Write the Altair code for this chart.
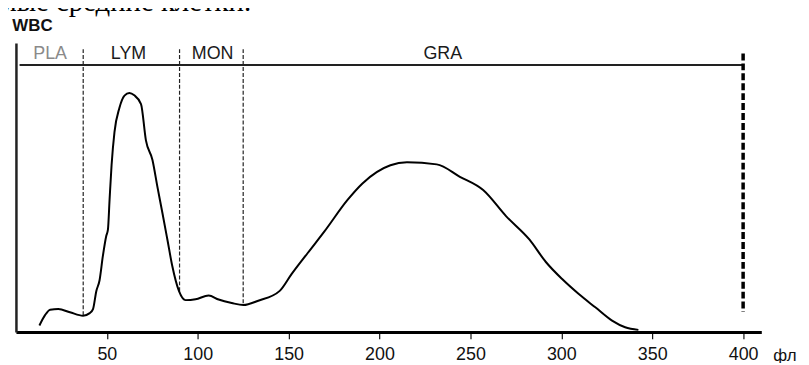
import altair as alt
import pandas as pd

# ---- data ----
curve_x = [12.9, 16.0, 18.8, 23.3, 29.7, 36.9, 40.6, 42.4, 44.2, 46.0, 47.8, 49.7, 50.6, 51.5,
           52.6, 54.2, 56.9, 59.7, 62.4, 65.1, 68.8, 71.5, 75.1, 77.8, 80.6, 83.3, 86.0, 89.7,
           93.3, 98.8, 106.0, 111.5, 118.7, 125.1, 133.3, 145.1, 151.5, 160.6, 169.7, 182.4,
           190.6, 206.0, 215.1, 231.5, 244.2, 257.0, 269.7, 282.4, 291.5, 300.6, 309.6, 318.7,
           327.9, 335.1, 342.4]
curve_y = [2.2, 5.8, 7.7, 7.9, 6.8, 5.6, 6.5, 7.9, 14.1, 17.9, 26.2, 33.3, 35.4, 45.7,
           57.7, 69.2, 77.5, 81.8, 82.7, 81.9, 78.9, 66.3, 59.5, 50.3, 41.1, 32.0, 22.8, 14.1,
           11.0, 11.3, 12.6, 11.2, 10.0, 9.3, 10.8, 14.2, 19.9, 27.4, 34.8, 45.7,
           51.4, 57.7, 58.7, 58.0, 53.7, 49.1, 40.0, 32.0, 24.2, 18.2, 13.1, 8.5,
           3.9, 1.6, 0.7]

boundary_x = [37, 90, 125]
boundary_top = [97.9, 97.9, 97.9]
boundary_bottom = [5.6, 14.1, 9.3]

end_x = [400]
end_top = [96.4]
end_bottom = [6.9]

band_line_x = [2]
band_line_x2 = [400]
band_line_y = [92.4]

region_labels = ["PLA", "LYM", "MON", "GRA"]
region_label_x = [18.8, 61.9, 108.2, 234.8]
region_label_y = [96.2, 96.2, 96.2, 96.2]
region_label_tone = ["light", "dark", "dark", "dark"]

tick_values = [50, 100, 150, 200, 250, 300, 350, 400]

heading_text = ["мые средние клетки."]
y_label_text = ["WBC"]
x_unit_text = ["фл"]

# ---- scales / encodings ----
xscale = alt.Scale(domain=[0, 410], nice=False, zero=False)
yscale = alt.Scale(domain=[0, 100], nice=False, zero=False)
xaxis = alt.Axis(values=tick_values, title=None, grid=False, domainWidth=3, domainColor="#000",
                 tickColor="#111", tickWidth=1.2, tickSize=7, labelFontSize=18,
                 labelFont="Liberation Sans", labelColor="#111", labelPadding=7, format="d")
yaxis = alt.Axis(title=None, grid=False, ticks=False, labels=False, domainWidth=2.5,
                 domainColor="#222")

curve_df = pd.DataFrame({"x": curve_x, "y": curve_y})
curve = alt.Chart(curve_df).mark_line(color="#000", strokeWidth=2, interpolate="monotone").encode(
    x=alt.X("x:Q", scale=xscale, axis=xaxis),
    y=alt.Y("y:Q", scale=yscale, axis=yaxis),
)

bdf = pd.DataFrame({"x": boundary_x, "top": boundary_top, "bottom": boundary_bottom})
bounds = alt.Chart(bdf).mark_rule(color="#222", strokeWidth=1.2, strokeDash=[4, 2]).encode(
    x=alt.X("x:Q", scale=xscale, axis=xaxis),
    y=alt.Y("top:Q", scale=yscale, axis=yaxis),
    y2="bottom:Q",
)

edf = pd.DataFrame({"x": end_x, "top": end_top, "bottom": end_bottom})
endline = alt.Chart(edf).mark_rule(color="#000", strokeWidth=3.5, strokeDash=[7, 3]).encode(
    x=alt.X("x:Q", scale=xscale, axis=xaxis),
    y=alt.Y("top:Q", scale=yscale, axis=yaxis),
    y2="bottom:Q",
)

ldf = pd.DataFrame({"x": band_line_x, "x2": band_line_x2, "y": band_line_y})
bandline = alt.Chart(ldf).mark_rule(color="#222", strokeWidth=2.2).encode(
    x=alt.X("x:Q", scale=xscale, axis=xaxis),
    x2="x2:Q",
    y=alt.Y("y:Q", scale=yscale, axis=yaxis),
)

rdf = pd.DataFrame({"label": region_labels, "x": region_label_x, "y": region_label_y,
                    "tone": region_label_tone})
rlabels = alt.Chart(rdf).mark_text(font="Liberation Sans", fontSize=18, baseline="middle",
                                   align="center").encode(
    x=alt.X("x:Q", scale=xscale, axis=xaxis),
    y=alt.Y("y:Q", scale=yscale, axis=yaxis),
    text="label:N",
    color=alt.Color("tone:N", scale=alt.Scale(domain=["light", "dark"],
                                              range=["#8a8a8a", "#1a1a1a"]), legend=None),
)

hdf = pd.DataFrame({"t": heading_text, "x": [-9.6], "y": [111.2]})
heading = alt.Chart(hdf).mark_text(font="Liberation Serif", fontSize=29, align="left",
                                   baseline="alphabetic", color="#000").encode(
    x=alt.X("x:Q", scale=xscale, axis=xaxis),
    y=alt.Y("y:Q", scale=yscale, axis=yaxis),
    text="t:N",
)

wdf = pd.DataFrame({"t": y_label_text, "x": [-2.0], "y": [104.3]})
wbc = alt.Chart(wdf).mark_text(font="Liberation Sans", fontSize=17, fontWeight="bold",
                               align="left", baseline="alphabetic", color="#111").encode(
    x=alt.X("x:Q", scale=xscale, axis=xaxis),
    y=alt.Y("y:Q", scale=yscale, axis=yaxis),
    text="t:N",
)

udf = pd.DataFrame({"t": x_unit_text, "x": [423.0], "y": [-8.2]})
unit = alt.Chart(udf).mark_text(font="Liberation Sans", fontSize=17, align="center",
                                baseline="middle", color="#111").encode(
    x=alt.X("x:Q", scale=xscale, axis=xaxis),
    y=alt.Y("y:Q", scale=yscale, axis=yaxis),
    text="t:N",
)

chart = alt.layer(bandline, bounds, endline, curve, rlabels, heading, wbc, unit).properties(
    width=751, height=291,
    autosize=alt.AutoSizeParams(type="none"),
    padding={"left": 8, "top": 34, "right": 40, "bottom": 30},
    background="white",
).configure_view(stroke=None)

chart.save("out.html", embed_options={"renderer": "svg", "actions": False})
